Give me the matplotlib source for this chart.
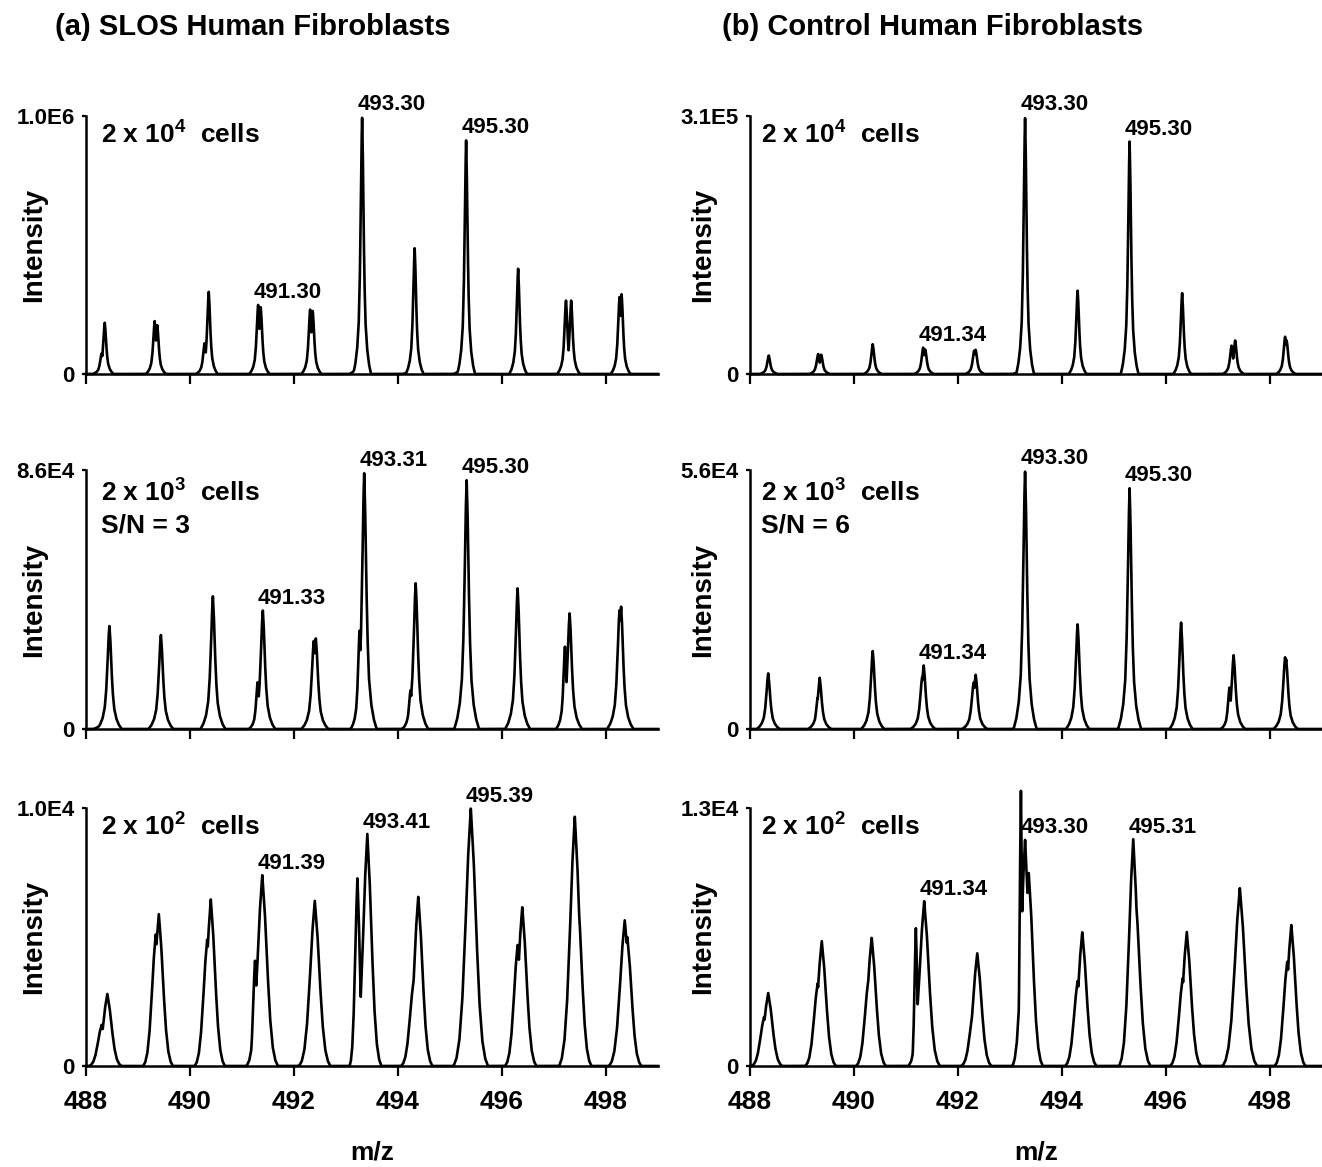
import numpy as np
import matplotlib
matplotlib.use("Agg")
import matplotlib.pyplot as plt

plt.rcParams['font.family'] = ['Liberation Sans', 'DejaVu Sans']
plt.rcParams['mathtext.fontset'] = 'custom'
plt.rcParams['mathtext.rm'] = 'Liberation Sans:bold'

# peak components: (m/z, relative intensity, width in m/z)
SLOS_2E4 = [(488.30, 0.08, 0.05), (488.36, 0.20, 0.05), (489.32, 0.205, 0.05), (489.37, 0.19, 0.05),
            (490.28, 0.12, 0.05), (490.36, 0.32, 0.05), (491.31, 0.27, 0.05), (491.36, 0.26, 0.05),
            (492.31, 0.25, 0.05), (492.36, 0.245, 0.05), (493.23, 0.085, 0.05), (493.31, 1.0, 0.05),
            (494.26, 0.06, 0.05), (494.32, 0.49, 0.05), (495.24, 0.08, 0.05), (495.31, 0.91, 0.05),
            (496.31, 0.41, 0.05), (497.23, 0.287, 0.05), (497.33, 0.285, 0.05),
            (498.26, 0.30, 0.05), (498.30, 0.31, 0.05)]
SLOS_2E3 = [(488.38, 0.10, 0.07), (488.45, 0.40, 0.07), (489.44, 0.365, 0.07), (490.44, 0.513, 0.07),
            (491.30, 0.18, 0.05), (491.40, 0.46, 0.07), (492.38, 0.34, 0.07), (492.42, 0.35, 0.07),
            (493.26, 0.38, 0.05), (493.35, 0.99, 0.07), (494.24, 0.15, 0.05), (494.34, 0.564, 0.07),
            (495.32, 0.964, 0.07), (496.30, 0.545, 0.07), (497.21, 0.32, 0.05), (497.30, 0.448, 0.07),
            (498.26, 0.46, 0.07), (498.29, 0.474, 0.07)]
SLOS_2E2 = [(488.30, 0.16, 0.08), (488.41, 0.28, 0.09), (489.34, 0.51, 0.08), (489.40, 0.59, 0.09),
            (490.33, 0.49, 0.08), (490.40, 0.646, 0.09), (491.25, 0.41, 0.04), (491.39, 0.74, 0.10),
            (492.32, 0.23, 0.08), (492.40, 0.64, 0.10), (493.22, 0.73, 0.05), (493.41, 0.90, 0.09),
            (494.30, 0.33, 0.08), (494.39, 0.658, 0.09), (495.40, 1.0, 0.11), (496.30, 0.47, 0.08),
            (496.39, 0.617, 0.09), (497.40, 0.968, 0.10), (497.45, 0.69, 0.09), (498.36, 0.565, 0.10),
            (498.41, 0.50, 0.09)]

CTRL_2E4 = [(488.36, 0.072, 0.05), (489.31, 0.078, 0.05), (489.37, 0.075, 0.05), (490.36, 0.116, 0.05),
            (491.33, 0.103, 0.05), (491.37, 0.095, 0.05), (492.31, 0.09, 0.05), (492.34, 0.094, 0.05),
            (493.22, 0.06, 0.05), (493.29, 1.0, 0.05), (494.30, 0.325, 0.05), (495.30, 0.904, 0.05),
            (496.31, 0.315, 0.05), (497.26, 0.11, 0.05), (497.33, 0.13, 0.05), (498.29, 0.145, 0.05),
            (498.32, 0.13, 0.05)]
CTRL_2E3 = [(488.35, 0.215, 0.065), (489.30, 0.12, 0.05), (489.34, 0.198, 0.065), (490.36, 0.302, 0.065),
            (491.25, 0.055, 0.05), (491.31, 0.20, 0.065), (491.34, 0.246, 0.065), (492.30, 0.18, 0.065),
            (492.34, 0.21, 0.065), (493.22, 0.10, 0.05), (493.29, 1.0, 0.065), (494.30, 0.406, 0.065),
            (495.30, 0.932, 0.065), (496.29, 0.412, 0.065), (497.22, 0.16, 0.05), (497.30, 0.286, 0.065),
            (498.29, 0.278, 0.065), (498.31, 0.27, 0.065)]
CTRL_2E2 = [(488.27, 0.19, 0.08), (488.35, 0.283, 0.09), (489.30, 0.32, 0.08), (489.38, 0.485, 0.09),
            (490.28, 0.34, 0.08), (490.34, 0.498, 0.09), (491.19, 0.534, 0.03), (491.35, 0.64, 0.10),
            (492.30, 0.225, 0.08), (492.37, 0.438, 0.09), (493.21, 1.072, 0.025), (493.29, 0.88, 0.08),
            (493.36, 0.75, 0.09), (494.30, 0.33, 0.08), (494.39, 0.52, 0.09), (495.37, 0.879, 0.09),
            (495.40, 0.70, 0.10), (496.32, 0.34, 0.08), (496.40, 0.52, 0.09), (497.42, 0.69, 0.11),
            (498.33, 0.405, 0.08), (498.41, 0.547, 0.09)]

# peak shape (offset in widths, relative height)
SHARP_DX = [-3.4, -2.6, -1.9, -1.3, -0.9, -0.55, -0.25, 0, 0.25, 0.55, 0.9, 1.3, 1.9, 2.6, 3.4]
SHARP_Y = [0, 0.04, 0.1, 0.2, 0.36, 0.6, 0.87, 1, 0.87, 0.6, 0.36, 0.2, 0.1, 0.04, 0]
ROUND_DX = [-3, -2.5, -2, -1.5, -1, -0.5, 0, 0.5, 1, 1.5, 2, 2.5, 3]
ROUND_Y = [0, 0.03, 0.1, 0.25, 0.5, 0.8, 1, 0.8, 0.5, 0.25, 0.1, 0.03, 0]

SLOS_TOPS = [1.0e6, 8.6e4, 1.0e4]
SLOS_TOP_LABELS = ['1.0E6', '8.6E4', '1.0E4']
CTRL_TOPS = [3.1e5, 5.6e4, 1.3e4]
CTRL_TOP_LABELS = ['3.1E5', '5.6E4', '1.3E4']
CELLS = ['2 x 10$^{4}$  cells', '2 x 10$^{3}$  cells', '2 x 10$^{2}$  cells']
SLOS_SN = [None, 'S/N = 3', None]
CTRL_SN = [None, 'S/N = 6', None]

SLOS_PEAK_LABELS = [[('491.30', 491.31), ('493.30', 493.31), ('495.30', 495.31)],
                    [('491.33', 491.40), ('493.31', 493.35), ('495.30', 495.32)],
                    [('491.39', 491.39), ('493.41', 493.41), ('495.39', 495.40)]]
CTRL_PEAK_LABELS = [[('491.34', 491.33), ('493.30', 493.29), ('495.30', 495.30)],
                    [('491.34', 491.34), ('493.30', 493.29), ('495.30', 495.30)],
                    [('491.34', 491.35), ('493.30', 493.29), ('495.31', 495.37)]]

XTICKS = [488, 490, 492, 494, 496, 498]
TITLES = ['(a) SLOS Human Fibroblasts', '(b) Control Human Fibroblasts']

W, H = 1322, 1167
fig = plt.figure(figsize=(W / 100, H / 100), dpi=100)

col_left = [86, 750]
col_width = 572
row_top = [116, 470, 808]
row_zero = [374, 729, 1066]

mz = np.linspace(488, 499, 6001)


def spectrum(peaks, top, dx, prof):
    y = np.zeros_like(mz)
    for c, h, w in peaks:
        yc = h * top * np.interp(mz, c + np.array(dx) * w, prof, left=0, right=0)
        y = np.maximum(y, yc)
    return y


columns = [
    ([SLOS_2E4, SLOS_2E3, SLOS_2E2], SLOS_TOPS, SLOS_TOP_LABELS, SLOS_SN, SLOS_PEAK_LABELS, 10.5, -0.068),
    ([CTRL_2E4, CTRL_2E3, CTRL_2E2], CTRL_TOPS, CTRL_TOP_LABELS, CTRL_SN, CTRL_PEAK_LABELS, 8.0, -0.060),
]

for ci, (panels, tops, toplabels, sn, plabels, txoff, ylab_x) in enumerate(columns):
    for ri in range(3):
        left = col_left[ci] / W
        bottom = 1 - row_zero[ri] / H
        height = (row_zero[ri] - row_top[ri]) / H
        width = min(col_width / W, 1 - left)
        ax = fig.add_axes([left, bottom, width, height])

        peaks = panels[ri]
        top = tops[ri]
        prof_dx, prof_y = (ROUND_DX, ROUND_Y) if ri == 2 else (SHARP_DX, SHARP_Y)
        ax.plot(mz, spectrum(peaks, top, prof_dx, prof_y), color='black', lw=1.9, clip_on=False)

        ax.set_xlim(488, 499 if ci == 0 else 488 + (1 - left) * W / 52.0)
        ax.set_ylim(0, top)
        ax.set_yticks([0, top])
        ax.set_yticklabels(['0', toplabels[ri]])
        ax.set_xticks(XTICKS)
        for s in ['top', 'right']:
            ax.spines[s].set_visible(False)
        for s in ['left', 'bottom']:
            ax.spines[s].set_linewidth(1.8)
        ax.tick_params(axis='x', direction='out', length=7, width=1.6, pad=10, labelsize=19)
        ax.tick_params(axis='y', direction='out', length=3, width=1.6, pad=5, labelsize=16)
        for lab in ax.get_xticklabels() + ax.get_yticklabels():
            lab.set_fontweight('bold')
        if ri < 2:
            ax.tick_params(axis='x', labelbottom=False)
        else:
            ax.set_xlabel('m/z', fontsize=19, fontweight='bold')
            ax.xaxis.set_label_coords(0.5, -0.29)

        ax.set_ylabel('Intensity', fontsize=20, fontweight='bold')
        ax.yaxis.set_label_coords(ylab_x, 0.5)

        first_y = -19.5 if ri != 1 else -22
        ax.annotate(CELLS[ri], xy=(0, 1), xycoords='axes fraction', xytext=(txoff, first_y),
                    textcoords='offset points', fontsize=19, fontweight='bold', va='baseline')
        if sn[ri]:
            ax.annotate(sn[ri], xy=(0, 1), xycoords='axes fraction', xytext=(txoff, -45),
                        textcoords='offset points', fontsize=19, fontweight='bold', va='baseline')

        for text, pc in plabels[ri]:
            c, h, w = min(peaks, key=lambda p: abs(p[0] - pc))
            ax.annotate(text, xy=(c, h * top), xytext=(21, 4.5), textcoords='offset points',
                        ha='center', va='baseline', fontsize=16, fontweight='bold',
                        annotation_clip=False)

fig.text(55 / W, 1 - 27 / H, TITLES[0], fontsize=21, fontweight='bold', va='center', ha='left')
fig.text(722 / W, 1 - 27 / H, TITLES[1], fontsize=21, fontweight='bold', va='center', ha='left')

fig.savefig('out.png', dpi=100)
